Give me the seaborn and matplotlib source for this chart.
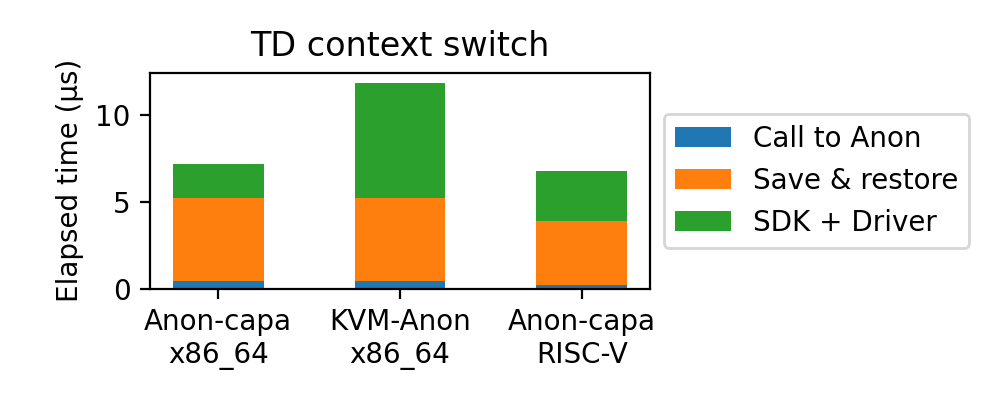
import matplotlib
matplotlib.use("Agg")
import matplotlib.pyplot as plt
import seaborn as sns
import pandas as pd
import numpy as np

# Werte (in µs)
platforms = ["Anon-capa\nx86_64", "KVM-Anon\nx86_64", "Anon-capa\nRISC-V"]
call_to_anon = [0.44, 0.44, 0.21]
save_restore = [4.81, 4.81, 3.69]
sdk_driver = [1.94, 6.62, 2.89]
series_labels = ["Call to Anon", "Save & restore", "SDK + Driver"]

colors = sns.color_palette("tab10", 3)

df = pd.DataFrame({
    "platform": platforms,
    "call": call_to_anon,
    "save": save_restore,
    "sdk": sdk_driver,
})
# kumulierte Werte fuer die gestapelten Balken
df["cum_call"] = df["call"]
df["cum_save"] = df["call"] + df["save"]
df["cum_sdk"] = df["cum_save"] + df["sdk"]

fig, ax = plt.subplots(figsize=(5, 2), dpi=200)

# von hinten nach vorne zeichnen
layers = [("cum_sdk", 2), ("cum_save", 1), ("cum_call", 0)]
for col, i in layers:
    sns.barplot(data=df, x="platform", y=col, color=colors[i], width=0.5,
                saturation=1, ax=ax, label=series_labels[i])

ax.set_xlim(-0.375, 2.375)
ax.set_xlabel("")
ax.set_ylabel("Elapsed time (µs)")
ax.set_title("TD context switch")

handles, labels = ax.get_legend_handles_labels()
ax.legend(handles[::-1], labels[::-1], loc="center left", bbox_to_anchor=(1, 0.5))

fig.subplots_adjust(left=0.15, right=0.65, bottom=0.278, top=0.818)
fig.savefig("out.png", dpi=200)
